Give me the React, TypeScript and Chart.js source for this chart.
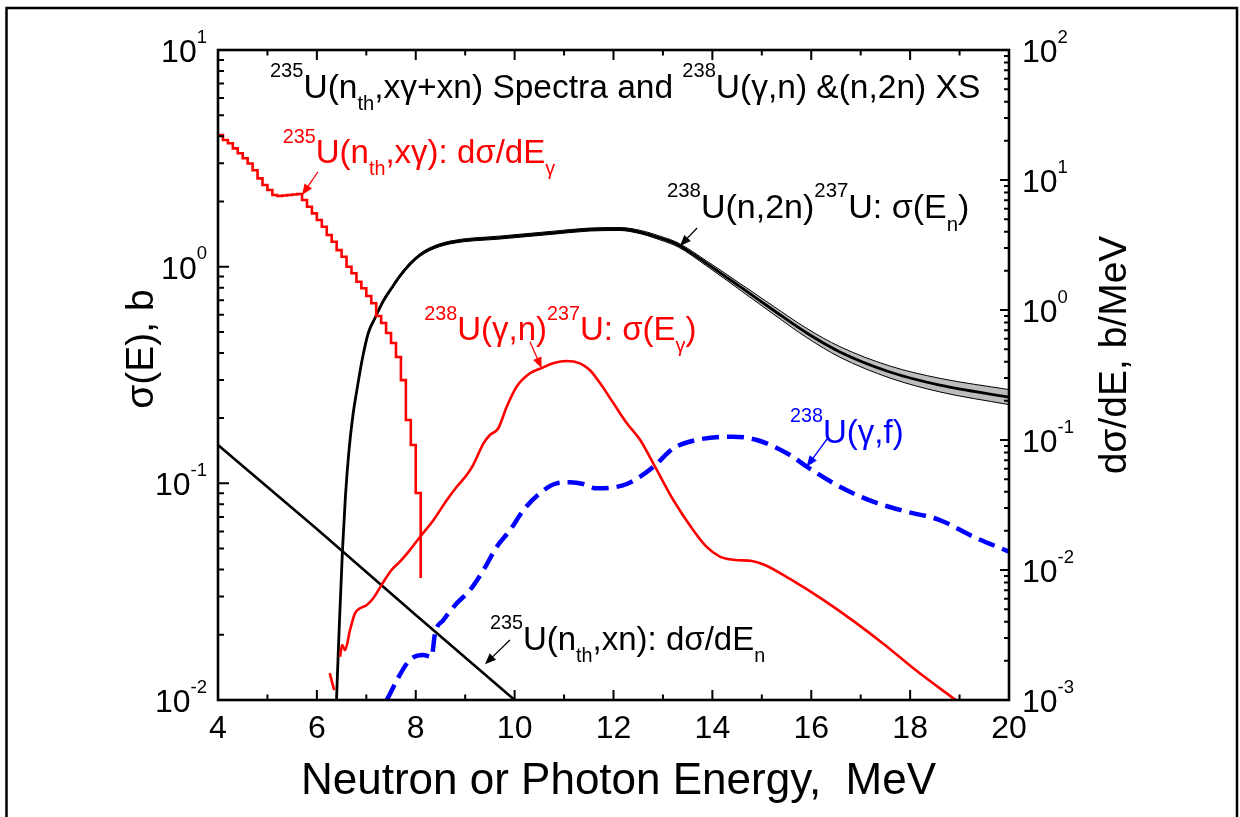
import React, { useEffect, useRef } from "react";
import { Chart, registerables } from "chart.js";
Chart.register(...registerables);

const FONT = "'Liberation Sans', Arial, Helvetica, sans-serif";

// ---------- axes ----------
const xMin = 4;
const xMax = 20;
const xMajorTicks = [4, 6, 8, 10, 12, 14, 16, 18, 20];
const xTickLabels = ["4", "6", "8", "10", "12", "14", "16", "18", "20"];
const xMinorTicks = [5, 7, 9, 11, 13, 15, 17, 19];
const leftExponents = [-2, -1, 0, 1];
const rightExponents = [-3, -2, -1, 0, 1, 2];

// ---------- 235U(nth,xγ) prompt gamma spectrum (histogram, b/MeV, right axis) ----------
const gammaSpecE = [
  4.0, 4.1, 4.2, 4.3, 4.4, 4.5, 4.6, 4.7, 4.8, 4.9, 5.0, 5.1,
  5.2, 5.3, 5.4, 5.5, 5.6,
  5.7, 5.8, 5.9, 6.0, 6.1, 6.2, 6.3, 6.4, 6.5, 6.6, 6.7, 6.8, 6.9, 7.0, 7.1,
  7.2, 7.3, 7.4, 7.5, 7.6, 7.7, 7.8, 7.9, 8.0, 8.1,
];
const gammaSpecV = [
  22.2, 20.3, 19.15, 17.5, 16.05, 14.7, 13.4, 11.9, 10.3, 9.15, 8.38, 7.67,
  7.53, 7.6, 7.67, 7.74, 7.8,
  7.02, 6.23, 5.54, 4.92, 4.37, 3.78, 3.35, 2.89, 2.57, 2.15, 1.915, 1.65, 1.47, 1.28, 1.126,
  0.899, 0.794, 0.665, 0.557, 0.435, 0.289, 0.1425, 0.0915, 0.0391, 0.00868,
];

// ---------- 235U(nth,xn) neutron spectrum (b/MeV, right axis) ----------
const nSpecE = [4, 6, 8, 10];
const nSpecV = [0.0916, 0.0207, 0.0045, 0.001];

// ---------- 238U(n,2n)237U cross section with uncertainty band (b, left axis) ----------
const n2nE = [
  6.397, 6.454, 6.518, 6.578, 6.65, 6.73, 6.81, 6.915, 7.04, 7.176, 7.343, 7.513, 7.681, 7.883,
  8.086, 8.288, 8.693, 9.704, 10.715, 11.52, 12.13, 12.54, 12.94, 13.31, 13.88, 14.56, 15.23,
  15.91, 16.58, 17.59, 18.6, 20.0,
];
const n2nV = [
  0.01, 0.0222, 0.0492, 0.0875, 0.1425, 0.2067, 0.27, 0.371, 0.494, 0.5796, 0.694, 0.797, 0.906, 1.029,
  1.132, 1.206, 1.293, 1.363, 1.43, 1.484, 1.492, 1.445, 1.356, 1.259, 1.036, 0.808, 0.631,
  0.494, 0.404, 0.3265, 0.284, 0.25,
];
const n2nHi = [
  0.01015, 0.02253, 0.04994, 0.08881, 0.1446, 0.2098, 0.2741, 0.3766, 0.5014, 0.5883, 0.7044, 0.809, 0.9196, 1.0444,
  1.149, 1.2241, 1.3124, 1.3848, 1.4529, 1.5077, 1.5159, 1.471, 1.3831, 1.2867, 1.064, 0.8363, 0.6581,
  0.5187, 0.4274, 0.348, 0.3053, 0.2708,
];
const n2nLo = [
  0.00985, 0.02187, 0.04847, 0.08621, 0.1404, 0.2036, 0.266, 0.3655, 0.4867, 0.571, 0.6837, 0.7852, 0.8926, 1.0138,
  1.1153, 1.1882, 1.2739, 1.3415, 1.4075, 1.4606, 1.4685, 1.4194, 1.3294, 1.2319, 1.0088, 0.7807, 0.605,
  0.4705, 0.3819, 0.3063, 0.2642, 0.2308,
];

// ---------- 238U(γ,n)237U cross section (b, left axis) ----------
const gnStubE = [6.26, 6.35];
const gnStubV = [0.0133, 0.0111];
const gnE = [
  6.47, 6.51, 6.57, 6.67, 6.77, 6.87, 7.01, 7.14, 7.31, 7.51, 7.68, 7.88, 8.09, 8.36, 8.63,
  8.83, 9.03, 9.16, 9.37, 9.5, 9.67, 9.84, 10.04, 10.31, 10.58, 10.78, 11.05, 11.32, 11.52,
  11.73, 12.0, 12.27, 12.54, 12.84, 13.21, 13.61, 13.88, 14.15, 14.46, 14.8, 15.06, 15.57,
  16.25, 16.87, 17.49, 18.11, 18.92,
];
const gnV = [
  0.01585, 0.01795, 0.017, 0.021, 0.0251, 0.0265, 0.02745, 0.0295, 0.034, 0.0398, 0.0435,
  0.0492, 0.0567, 0.0678, 0.0838, 0.0964, 0.1093, 0.1215, 0.153, 0.1671, 0.1795, 0.2258,
  0.2793, 0.322, 0.343, 0.358, 0.367, 0.358, 0.3334, 0.2895, 0.234, 0.1893, 0.1585, 0.1194,
  0.0838, 0.0609, 0.051, 0.0459, 0.0443, 0.0438, 0.042, 0.0362, 0.0289, 0.023, 0.01794,
  0.01375, 0.01,
];

// ---------- 238U(γ,f) cross section (b, left axis) ----------
const gfE = [
  7.41, 7.45, 7.62, 7.88, 8.15, 8.32, 8.39, 8.56, 8.83, 9.1, 9.37, 9.64, 9.91, 10.18, 10.51,
  10.85, 11.12, 11.39, 11.66, 12.0, 12.27, 12.54, 12.81, 13.21, 13.68, 14.42, 14.9, 15.57,
  15.91, 16.58, 17.25, 17.93, 18.6, 19.28, 20.0,
];
const gfV = [
  0.01, 0.01036, 0.01237, 0.0153, 0.01613, 0.01585, 0.0203, 0.0234, 0.02795, 0.0322, 0.0398,
  0.051, 0.0609, 0.0753, 0.0899, 0.1, 0.1011, 0.0993, 0.0948, 0.0958, 0.0993, 0.1073, 0.1193,
  0.145, 0.1585, 0.1641, 0.1585, 0.1351, 0.1193, 0.0964, 0.0823, 0.074, 0.0677, 0.0567, 0.0484,
];

// ---------- annotation texts ----------
type Seg = [string, number]; // 0 normal, 1 superscript, -1 subscript
const titleSegs: Seg[] = [["235", 1], ["U(n", 0], ["th", -1], [",xγ+xn) Spectra and ", 0], ["238", 1], ["U(γ,n) &(n,2n) XS", 0]];
const xgSegs: Seg[] = [["235", 1], ["U(n", 0], ["th", -1], [",xγ): dσ/dE", 0], ["γ", -1]];
const n2nSegs: Seg[] = [["238", 1], ["U(n,2n)", 0], ["237", 1], ["U: σ(E", 0], ["n", -1], [")", 0]];
const gnSegs: Seg[] = [["238", 1], ["U(γ,n)", 0], ["237", 1], ["U: σ(E", 0], ["γ", -1], [")", 0]];
const gfSegs: Seg[] = [["238", 1], ["U(γ,f)", 0]];
const xnSegs: Seg[] = [["235", 1], ["U(n", 0], ["th", -1], [",xn): dσ/dE", 0], ["n", -1]];
const xTitle = "Neutron or Photon Energy,  MeV";
const yLeftTitle = "σ(E), b";
const yRightTitle = "dσ/dE, b/MeV";

// label anchors in data coordinates (E, left-axis value); baseline-left
const LABELS = [
  { segs: titleSegs, e: 5.05, v: 6.0, color: "#000000", size: 33.5 },
  { segs: xgSegs, e: 5.31, v: 3.01, color: "#ff0000", size: 33 },
  { segs: n2nSegs, e: 13.08, v: 1.677, color: "#000000", size: 34 },
  { segs: gnSegs, e: 8.17, v: 0.4586, color: "#ff0000", size: 33 },
  { segs: gfSegs, e: 15.57, v: 0.1536, color: "#0000ff", size: 33 },
  { segs: xnSegs, e: 9.5, v: 0.01702, color: "#000000", size: 33 },
];
const ARROWS = [
  { e1: 6.02, v1: 2.735, e2: 5.7, v2: 2.14, color: "#ff0000" },
  { e1: 13.69, v1: 1.508, e2: 13.345, v2: 1.246, color: "#000000" },
  { e1: 10.31, v1: 0.4505, e2: 10.547, v2: 0.3396, color: "#ff0000" },
  { e1: 16.32, v1: 0.1602, e2: 15.907, v2: 0.1193, color: "#0000ff" },
  { e1: 9.906, v1: 0.01892, e2: 9.4, v2: 0.01462, color: "#000000" },
];

function richWidth(ctx: CanvasRenderingContext2D, segs: Seg[], size: number, small = 0.6) {
  let w = 0;
  for (const [t, k] of segs) {
    ctx.font = `${k === 0 ? size : size * small}px ${FONT}`;
    w += ctx.measureText(t).width;
  }
  return w;
}

function drawRich(
  ctx: CanvasRenderingContext2D, segs: Seg[], x: number, y: number, size: number, color: string,
  small = 0.6, rise = 0.62, drop = 0.37,
) {
  let cx = x;
  ctx.fillStyle = color;
  ctx.textAlign = "left";
  ctx.textBaseline = "alphabetic";
  for (const [t, k] of segs) {
    const s = k === 0 ? size : size * small;
    ctx.font = `${s}px ${FONT}`;
    const dy = k === 1 ? -size * rise : k === -1 ? size * drop : 0;
    ctx.fillText(t, cx, y + dy);
    cx += ctx.measureText(t).width;
  }
}

function drawArrow(ctx: CanvasRenderingContext2D, x1: number, y1: number, x2: number, y2: number, color: string) {
  const a = Math.atan2(y2 - y1, x2 - x1);
  const L = 11, W = 4.5;
  const c = Math.cos(a), s = Math.sin(a);
  ctx.strokeStyle = color;
  ctx.fillStyle = color;
  ctx.lineWidth = 1.3;
  ctx.beginPath();
  ctx.moveTo(x1, y1);
  ctx.lineTo(x2 - L * 0.7 * c, y2 - L * 0.7 * s);
  ctx.stroke();
  ctx.beginPath();
  ctx.moveTo(x2, y2);
  ctx.lineTo(x2 - L * c + W * s, y2 - L * s - W * c);
  ctx.lineTo(x2 - L * c - W * s, y2 - L * s + W * c);
  ctx.closePath();
  ctx.fill();
}

const overlayPlugin = {
  id: "overlay",
  afterDraw(chart: any) {
    const ctx: CanvasRenderingContext2D = chart.ctx;
    const { left, right, top, bottom } = chart.chartArea;
    const xs = chart.scales.x, yl = chart.scales.yL, yr = chart.scales.yR;
    ctx.save();

    // figure frame
    ctx.strokeStyle = "#000";
    ctx.lineWidth = 2.5;
    ctx.strokeRect(6.5, 8, 1230.5, 900);

    // axes box
    ctx.lineWidth = 2.6;
    ctx.strokeRect(left, top, right - left, bottom - top);

    // ticks
    ctx.lineWidth = 2;
    ctx.beginPath();
    const xt = (v: number, len: number) => {
      const px = xs.getPixelForValue(v);
      ctx.moveTo(px, bottom); ctx.lineTo(px, bottom - len);
      ctx.moveTo(px, top); ctx.lineTo(px, top + len);
    };
    xMajorTicks.forEach((v) => xt(v, 10));
    xMinorTicks.forEach((v) => xt(v, 5.5));
    leftExponents.forEach((ex) => {
      const py = yl.getPixelForValue(Math.pow(10, ex));
      ctx.moveTo(left, py); ctx.lineTo(left + 11, py);
      if (ex < 1) {
        for (let m = 2; m <= 9; m++) {
          const p = yl.getPixelForValue(m * Math.pow(10, ex));
          ctx.moveTo(left, p); ctx.lineTo(left + 6, p);
        }
      }
    });
    rightExponents.forEach((ex) => {
      const py = yr.getPixelForValue(Math.pow(10, ex));
      ctx.moveTo(right, py); ctx.lineTo(right - 9, py);
      if (ex < 2) {
        for (let m = 2; m <= 9; m++) {
          const p = yr.getPixelForValue(m * Math.pow(10, ex));
          ctx.moveTo(right, p); ctx.lineTo(right - 5, p);
        }
      }
    });
    ctx.stroke();

    // x tick labels
    ctx.fillStyle = "#000";
    ctx.font = `32px ${FONT}`;
    ctx.textAlign = "center";
    ctx.textBaseline = "alphabetic";
    xMajorTicks.forEach((v, i) => {
      ctx.fillText(xTickLabels[i], xs.getPixelForValue(v), bottom + 38);
    });

    // y tick labels (10^n)
    leftExponents.forEach((ex) => {
      const segs: Seg[] = [["10", 0], [String(ex), 1]];
      const w = richWidth(ctx, segs, 32, 0.58);
      const py = yl.getPixelForValue(Math.pow(10, ex));
      drawRich(ctx, segs, left - 11 - w, py + 12, 32, "#000", 0.58, 0.6, 0);
    });
    rightExponents.forEach((ex) => {
      const segs: Seg[] = [["10", 0], [String(ex), 1]];
      const py = yr.getPixelForValue(Math.pow(10, ex));
      drawRich(ctx, segs, right + 13, py + 12, 32, "#000", 0.58, 0.6, 0);
    });

    // axis titles
    ctx.fillStyle = "#000";
    ctx.font = `44px ${FONT}`;
    ctx.textAlign = "center";
    ctx.fillText(xTitle, (left + right) / 2 + 5, bottom + 94);

    ctx.font = `39px ${FONT}`;
    ctx.save();
    ctx.translate(153, (top + bottom) / 2 - 26);
    ctx.rotate(-Math.PI / 2);
    ctx.fillText(yLeftTitle, 0, 0);
    ctx.restore();
    ctx.save();
    ctx.translate(1126, (top + bottom) / 2 - 20);
    ctx.rotate(-Math.PI / 2);
    ctx.fillText(yRightTitle, 0, 0);
    ctx.restore();

    // annotations
    LABELS.forEach((l) => {
      drawRich(ctx, l.segs, xs.getPixelForValue(l.e), yl.getPixelForValue(l.v), l.size, l.color);
    });
    ARROWS.forEach((a) => {
      drawArrow(
        ctx,
        xs.getPixelForValue(a.e1), yl.getPixelForValue(a.v1),
        xs.getPixelForValue(a.e2), yl.getPixelForValue(a.v2),
        a.color,
      );
    });

    ctx.restore();
  },
};

const pts = (xs: number[], ys: number[]) => xs.map((x, i) => ({ x, y: ys[i] }));

export default function App() {
  const ref = useRef<HTMLCanvasElement>(null);
  useEffect(() => {
    if (!ref.current) return;
    const base = { pointRadius: 0, pointHoverRadius: 0, fill: false, spanGaps: false };
    const chart = new Chart(ref.current, {
      type: "line",
      data: {
        datasets: [
          { ...base, label: "235U(nth,xγ)", data: pts(gammaSpecE, gammaSpecV), yAxisID: "yR", borderColor: "#ff0000", borderWidth: 2.6, stepped: true },
          { ...base, label: "238U(γ,n)", data: pts(gnE, gnV), yAxisID: "yL", borderColor: "#ff0000", borderWidth: 2.6, cubicInterpolationMode: "monotone" },
          { ...base, label: "238U(γ,n) low", data: pts(gnStubE, gnStubV), yAxisID: "yL", borderColor: "#ff0000", borderWidth: 2.6 },
          { ...base, label: "238U(γ,f)", data: pts(gfE, gfV), yAxisID: "yL", borderColor: "#0000ff", borderWidth: 4.5, borderDash: [17, 8], cubicInterpolationMode: "monotone" },
          { ...base, label: "235U(nth,xn)", data: pts(nSpecE, nSpecV), yAxisID: "yR", borderColor: "#000000", borderWidth: 2.6 },
          { ...base, label: "238U(n,2n)", data: pts(n2nE, n2nV), yAxisID: "yL", borderColor: "#000000", borderWidth: 2.8, cubicInterpolationMode: "monotone" },
          { ...base, label: "238U(n,2n) hi", data: pts(n2nE, n2nHi), yAxisID: "yL", borderColor: "#000000", borderWidth: 1, cubicInterpolationMode: "monotone" },
          { ...base, label: "238U(n,2n) lo", data: pts(n2nE, n2nLo), yAxisID: "yL", borderColor: "#000000", borderWidth: 1, cubicInterpolationMode: "monotone", fill: "-1", backgroundColor: "#bdbdbd" },
        ] as any,
      },
      options: {
        animation: false,
        responsive: false,
        devicePixelRatio: 1,
        events: [],
        layout: { padding: { left: 218, right: 231, top: 50, bottom: 117 } },
        plugins: { legend: { display: false }, tooltip: { enabled: false }, title: { display: false } },
        scales: {
          x: { type: "linear", min: xMin, max: xMax, display: false },
          yL: { type: "logarithmic", position: "left", min: 0.01, max: 10, display: false },
          yR: { type: "logarithmic", position: "right", min: 0.001, max: 100, display: false },
        },
      } as any,
      plugins: [overlayPlugin],
    });
    return () => chart.destroy();
  }, []);
  return (
    <div style={{ position: "fixed", left: 0, top: 0, width: 1240, height: 817, background: "#ffffff" }}>
      <canvas ref={ref} width={1240} height={817} style={{ display: "block", width: 1240, height: 817 }} />
    </div>
  );
}
